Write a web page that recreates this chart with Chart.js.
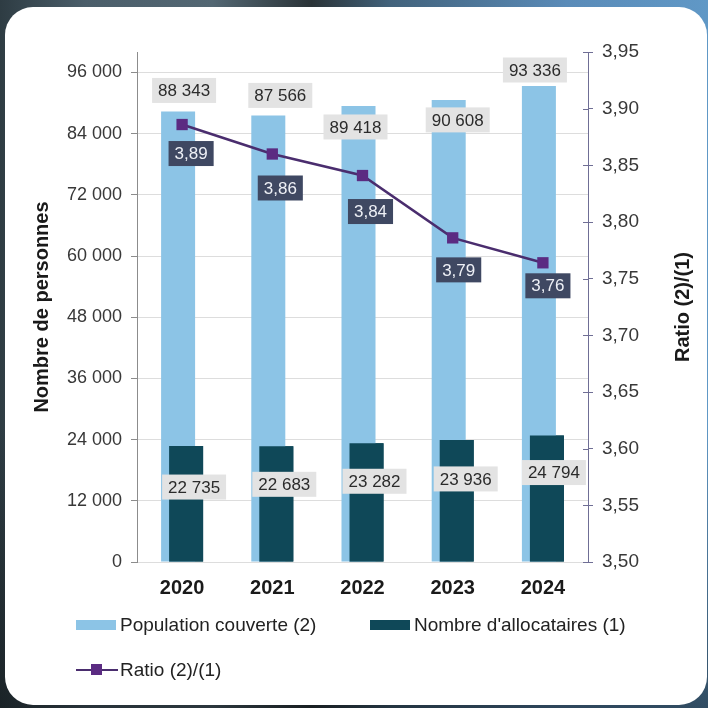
<!DOCTYPE html>
<html>
<head>
<meta charset="utf-8">
<script src="https://cdn.jsdelivr.net/npm/chart.js@4.4.1/dist/chart.umd.min.js"></script>
<style>
  html, body { margin: 0; padding: 0; }
  body {
    width: 708px; height: 708px; overflow: hidden; position: relative;
    background:
      linear-gradient(180deg, rgba(0,0,0,0) 60%, rgba(10,14,16,0.55) 100%),
      linear-gradient(90deg, #2e3c43 0%, #4b5e6a 12%, #536773 30%, #2a3337 44%, #42627b 55%, #5a8bb8 80%, #6098c6 100%);
    font-family: "Liberation Sans", Arial, sans-serif;
  }
  .card {
    position: absolute; left: 5px; top: 7px; width: 702px; height: 698px;
    background: #fff; border-radius: 28px;
  }
  #chart { position: absolute; left: 0; top: 0; }
  .leg { position: absolute; height: 22px; line-height: 22px; font-size: 19px; color: #222; white-space: nowrap; }
  .leg .sw { position: absolute; left: 0; top: 6px; width: 40px; height: 10px; }
  .leg .ln { position: absolute; left: 0; top: 10px; width: 42px; height: 2px; }
  .leg .pt { position: absolute; left: 15px; top: 5px; width: 11px; height: 11px; }
  .leg span { position: absolute; left: 44px; top: 0; }
</style>
</head>
<body>
<div class="card"></div>
<canvas id="chart" width="708" height="708"></canvas>
<div id="legend"></div>
<script>
// Nombre de personnes couvertes et d'allocataires, 2020-2024
const years = ['2020', '2021', '2022', '2023', '2024'];
const population = [88343, 87566, 89418, 90608, 93336];   // (2)
const allocataires = [22735, 22683, 23282, 23936, 24794];  // (1)
const ratio = [3.886, 3.860, 3.841, 3.786, 3.764];         // (2)/(1)

// axis ranges and tick values
const leftRange = [0, 100000];
const leftTicks = [0, 12000, 24000, 36000, 48000, 60000, 72000, 84000, 96000];
const rightRange = [3.5, 3.95];
const rightTicks = [3.50, 3.55, 3.60, 3.65, 3.70, 3.75, 3.80, 3.85, 3.90, 3.95];

// where each value box sits relative to its bar top / point (px)
const popShift = [[6, -21], [12, -20], [-3, 21], [9, 20], [-4, -16]];
const allocShift = [[8, 41], [8, 38], [8, 38], [9, 39], [7, 37]];
const ratioShift = [[9, 29], [8, 34], [8, 36], [6, 32], [5, 23]];

const FONT = '"Liberation Sans", Arial, sans-serif';

function fmtInt(v) {
  return String(Math.round(v)).replace(/\B(?=(\d{3})+(?!\d))/g, ' ');
}
function fmtRatio(v) {
  return v.toFixed(2).replace('.', ',');
}

const boxes = [
  { shift: popShift, format: fmtInt, bg: '#e3e3e3', color: '#2b2b2b' },
  { shift: allocShift, format: fmtInt, bg: '#e3e3e3', color: '#2b2b2b' },
  { shift: ratioShift, format: fmtRatio, bg: '#3f4862', color: '#eef0f6' }
];

// the dark bars overlap the light ones: paint them again right after the light set
const barsOnTop = {
  id: 'barsOnTop',
  afterDatasetDraw(chart, args) {
    if (args.index === 0) chart.getDatasetMeta(1).controller.draw();
  }
};

const valueBoxes = {
  id: 'valueBoxes',
  afterDatasetsDraw(chart) {
    const ctx = chart.ctx;
    ctx.save();
    ctx.font = '17px ' + FONT;
    ctx.textAlign = 'center';
    ctx.textBaseline = 'middle';
    boxes.forEach((b, di) => {
      const meta = chart.getDatasetMeta(di);
      meta.data.forEach((el, i) => {
        const text = b.format(chart.data.datasets[di].data[i]);
        const w = ctx.measureText(text).width + 12;
        const h = 25;
        const cx = el.x + b.shift[i][0];
        const cy = el.y + b.shift[i][1];
        ctx.fillStyle = b.bg;
        ctx.fillRect(cx - w / 2, cy - h / 2, w, h);
        ctx.fillStyle = b.color;
        ctx.fillText(text, cx, cy + 1);
      });
    });
    ctx.restore();
  }
};

// right axis: ticks crossing the line and a bottom-to-top title
const rightAxisExtras = {
  id: 'rightAxisExtras',
  afterDraw(chart) {
    const s = chart.scales.y1;
    const ctx = chart.ctx;
    ctx.save();
    ctx.strokeStyle = '#6f6e95';
    ctx.lineWidth = 1;
    s.ticks.forEach(t => {
      const y = Math.round(s.getPixelForValue(t.value)) + 0.5;
      ctx.beginPath();
      ctx.moveTo(s.left - 5, y);
      ctx.lineTo(s.left, y);
      ctx.stroke();
    });
    const a = chart.chartArea;
    ctx.translate(683, (a.top + a.bottom) / 2);
    ctx.rotate(-Math.PI / 2);
    ctx.font = 'bold 20px ' + FONT;
    ctx.fillStyle = '#1a1a1a';
    ctx.textAlign = 'center';
    ctx.textBaseline = 'middle';
    ctx.fillText('Ratio (2)/(1)', 0, 0);
    ctx.restore();
  }
};

const chart = new Chart(document.getElementById('chart'), {
  data: {
    labels: years,
    datasets: [{
      type: 'bar',
      label: 'Population couverte (2)',
      data: population,
      backgroundColor: '#8cc4e6',
      yAxisID: 'y',
      order: 1,
      categoryPercentage: 0.1774,
      barPercentage: 4.25
    }, {
      type: 'bar',
      label: "Nombre d'allocataires (1)",
      data: allocataires,
      backgroundColor: '#0f4858',
      yAxisID: 'y',
      order: 1,
      categoryPercentage: 0.1774,
      barPercentage: 4.25
    }, {
      type: 'line',
      label: 'Ratio (2)/(1)',
      data: ratio,
      yAxisID: 'y1',
      order: 0,
      borderColor: '#4a2d6e',
      borderWidth: 2.5,
      pointStyle: 'rect',
      pointRadius: 8,
      pointBackgroundColor: '#5b2b82',
      pointBorderColor: '#5b2b82',
      pointBorderWidth: 0,
      tension: 0
    }]
  },
  options: {
    responsive: false,
    animation: false,
    devicePixelRatio: 1,
    layout: { padding: { left: 22, right: 5, top: 52, bottom: 106 } },
    plugins: {
      legend: { display: false },
      tooltip: { enabled: false }
    },
    scales: {
      x: {
        grid: { display: false },
        border: { display: false },
        ticks: { color: '#1a1a1a', font: { family: FONT, size: 20, weight: 'bold' }, padding: 6 },
        afterFit(s) { s.height = 40; }
      },
      y: {
        position: 'left',
        min: leftRange[0],
        max: leftRange[1],
        afterBuildTicks(s) { s.ticks = leftTicks.map(v => ({ value: v })); },
        ticks: {
          color: '#383838',
          font: { family: FONT, size: 18 },
          padding: 9,
          callback: v => fmtInt(v)
        },
        grid: { color: '#dddddd', tickColor: '#8c8c8c', tickLength: 6 },
        border: { color: '#8c8c8c' },
        title: {
          display: true,
          text: 'Nombre de personnes',
          color: '#1a1a1a',
          font: { family: FONT, size: 20, weight: 'bold' },
          padding: { top: 8, bottom: 0 }
        },
        afterFit(s) { s.width = 115; }
      },
      y1: {
        position: 'right',
        min: rightRange[0],
        max: rightRange[1],
        afterBuildTicks(s) { s.ticks = rightTicks.map(v => ({ value: v })); },
        ticks: {
          color: '#383838',
          font: { family: FONT, size: 19 },
          padding: 9,
          callback: v => fmtRatio(v)
        },
        grid: { drawOnChartArea: false, color: '#6f6e95', tickLength: 5 },
        border: { color: '#6f6e95' },
        afterFit(s) { s.width = 115; }
      }
    }
  },
  plugins: [barsOnTop, valueBoxes, rightAxisExtras]
});

// legend under the chart
const legendSlots = [[76, 614], [370, 614], [76, 659]];
const legend = document.getElementById('legend');
chart.data.datasets.forEach((ds, i) => {
  const item = document.createElement('div');
  item.className = 'leg';
  item.style.left = legendSlots[i][0] + 'px';
  item.style.top = legendSlots[i][1] + 'px';
  if (ds.type === 'bar') {
    item.innerHTML = '<div class="sw" style="background:' + ds.backgroundColor + '"></div>';
  } else {
    item.innerHTML = '<div class="ln" style="background:' + ds.borderColor + '"></div>' +
      '<div class="pt" style="background:' + ds.pointBackgroundColor + '"></div>';
  }
  const label = document.createElement('span');
  label.textContent = ds.label;
  item.appendChild(label);
  legend.appendChild(item);
});
</script>
</body>
</html>
